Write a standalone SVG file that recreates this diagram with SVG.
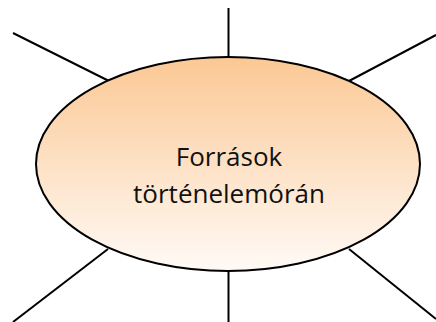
<svg xmlns="http://www.w3.org/2000/svg" width="436" height="322" viewBox="0 0 436 322">
<defs>
<linearGradient id="g" x1="0" y1="0" x2="0" y2="1">
<stop offset="0" stop-color="#fbc894"/>
<stop offset="1" stop-color="#fffaf6"/>
</linearGradient>
<style>
.c{stroke:#000;stroke-width:2;fill:none}
.t{font-family:"Open Sans","Noto Sans",sans-serif;font-size:26px;fill:#111;text-anchor:middle}
</style>
</defs>
<rect width="436" height="322" fill="#fff"/>
<g id="connectors">
<line class="c" x1="228.5" y1="8" x2="228.5" y2="58"/>
<line class="c" x1="228.5" y1="270" x2="228.5" y2="322"/>
<line class="c" x1="13" y1="33" x2="109" y2="81"/>
<line class="c" x1="436" y1="35" x2="349" y2="81"/>
<line class="c" x1="108" y1="249" x2="13" y2="322"/>
<line class="c" x1="349" y1="249" x2="436" y2="319"/>
</g>
<g id="center">
<ellipse cx="228" cy="164" rx="192" ry="107" fill="url(#g)" stroke="#000" stroke-width="2"/>
<text class="t" x="229" y="166">Források</text>
<text class="t" x="229" y="203">történelemórán</text>
</g>
</svg>
